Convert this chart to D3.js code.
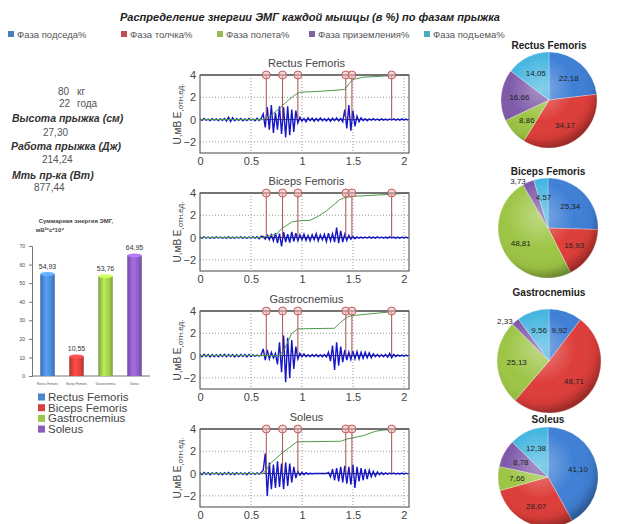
<!DOCTYPE html>
<html>
<head>
<meta charset="utf-8">
<script src="https://cdn.jsdelivr.net/npm/d3@7"></script>
<style>
	body { margin: 0; background: #fff; }
	text { font-family: "Liberation Sans", Arial, sans-serif; }
</style>
</head>
<body>
<div id="chart"></div>
<script>
// ---- data ----
var phases = ['Фаза подседа%', 'Фаза толчка%', 'Фаза полета%', 'Фаза приземления%', 'Фаза подъема%'];
var muscles = ['Rectus Femoris', 'Biceps Femoris', 'Gastrocnemius', 'Soleus'];

// energy share per phase (%), one array per muscle
var pieRF = [22.18, 34.17, 8.86, 16.66, 14.05];
var pieBF = [25.34, 16.93, 48.81, 3.73, 4.57];
var pieGM = [9.92, 48.71, 25.13, 2.33, 9.56];
var pieSO = [41.10, 28.07, 7.66, 8.78, 12.38];

// summed EMG energy, mV^2*s*10^4
var energySum = [54.93, 10.55, 53.76, 64.95];
var barTicks = [0, 10, 20, 30, 40, 50, 60, 70];

// athlete
var bodyMass = '80';
var age = '22';
var jumpHeight = '27,30';
var jumpWork = '214,24';
var jumpPower = '877,44';

// EMG traces, one sample every 0.02 s from 0 s
var timeStep = 0.02;
var emgRF = [0.05,-0.08,0.1,-0.06,0.04,-0.1,0.08,-0.05,0.06,-0.09,
	0.07,-0.06,0.1,-0.12,0.2,-0.18,0.15,-0.1,0.08,-0.07,
	0.09,-0.1,0.06,-0.08,0.1,-0.06,0.05,-0.1,0.12,-0.08,0.1,
	0.5,-0.7,1.1,-0.9,1.3,-1.2,0.6,-0.9,1.2,-1.3,1.1,-1.6,1.2,-1.4,0.9,-1.1,0.8,
	-0.3,0.2,-0.15,0.1,-0.2,0.15,-0.1,0.12,-0.15,0.1,-0.12,0.15,-0.1,0.08,-0.12,0.1,-0.15,0.12,-0.1,0.15,-0.12,0.1,-0.2,
	0.9,-0.8,1.3,-1.0,0.8,-0.6,
	0.3,-0.2,0.15,-0.1,0.08,-0.1,0.06,-0.05,0.08,-0.06,0.05,-0.07,0.06,-0.05,0.04,-0.06,0.05,-0.04,0.06,-0.05,0.04,-0.05,0.06,-0.04,0.05,-0.04];
var emgBF = [0.04,-0.05,0.06,-0.04,0.05,-0.06,0.04,-0.05,0.06,-0.04,
	0.05,-0.06,0.04,-0.05,0.06,-0.05,0.04,-0.06,0.05,-0.04,
	0.06,-0.05,0.04,-0.06,0.05,-0.04,0.06,-0.05,0.08,-0.1,0.12,
	0.1,-0.15,0.2,-0.2,0.25,-0.3,
	0.4,-0.5,0.35,-0.8,0.5,-0.4,0.3,-0.45,0.5,-0.35,0.4,
	-0.3,0.25,-0.2,0.3,-0.25,0.2,-0.3,0.25,-0.2,0.35,-0.3,0.25,-0.2,0.3,-0.35,0.4,-0.3,0.35,-0.4,0.9,-0.5,0.6,-0.4,
	0.3,-0.25,0.2,-0.15,0.1,-0.1,
	0.06,-0.05,0.04,-0.06,0.05,-0.04,0.06,-0.05,0.04,-0.05,0.06,-0.04,0.05,-0.06,0.04,-0.05,0.06,-0.04,0.05,-0.05,0.04,-0.06,0.05,-0.04,0.05,-0.04];
var emgGM = [0.08,-0.1,0.12,-0.08,0.1,-0.12,0.09,-0.1,0.08,-0.11,
	0.1,-0.08,0.12,-0.1,0.09,-0.08,0.1,-0.12,0.08,-0.1,
	0.09,-0.08,0.1,-0.12,0.1,-0.08,0.06,-0.05,0.05,-0.04,0.05,
	0.6,-0.4,0.5,-0.3,0.3,-0.2,0.2,
	-0.8,1.2,-1.5,1.8,-2.4,1.6,-2.0,1.4,-1.2,0.8,
	-0.3,0.2,-0.1,0.15,-0.1,0.08,-0.1,0.1,-0.08,0.1,-0.1,0.08,-0.1,0.1,-0.12,0.3,-0.5,0.9,-1.3,1.2,-0.9,0.8,-0.6,
	0.5,-0.4,0.3,-0.35,0.4,-0.3,
	0.35,-0.3,0.3,-0.25,0.3,-0.2,0.25,-0.2,0.15,-0.1,0.1,-0.1,0.08,-0.1,0.1,-0.15,0.2,-0.2,0.1,-0.08,0.06,-0.05,0.05,-0.06,0.05,-0.04];
var emgSO = [0.06,-0.08,0.1,-0.06,0.08,-0.1,0.07,-0.06,0.09,-0.08,
	0.06,-0.1,0.08,-0.07,0.1,-0.08,0.06,-0.09,0.08,-0.06,
	0.07,-0.08,0.06,-0.1,0.08,-0.06,0.05,-0.07,0.06,-0.05,0.1,
	0.3,1.8,-2.0,1.0,-1.4,0.8,-1.3,1.1,-1.2,0.9,-1.4,1.0,-1.1,0.9,-0.8,0.6,-0.4,
	0.2,-0.15,0.1,-0.1,0.08,-0.05,0.03,-0.02,0.01,0,0,0,0,0,0,0.1,-0.3,0.4,-0.6,0.5,-0.7,0.6,-0.8,
	0.7,-0.9,0.6,-1.0,0.8,-1.3,
	0.6,-0.7,0.5,-0.6,0.4,-0.5,0.3,-0.3,0.2,-0.25,0.15,-0.1,0.1,-0.08,0.06,-0.05,0.05,-0.04,0.05,-0.04,0.03,-0.04,0.05,-0.03,0.04,-0.03];

// cumulative energy curves [t, E]
var cumRF = [[0,0],[0.62,0],[0.7,0.4],[0.78,1.0],[0.86,1.7],[0.93,2.2],[0.98,2.45],[1.2,2.55],[1.42,2.7],[1.46,3.2],[1.5,3.6],[1.6,3.8],[1.8,3.9],[2.05,4.0]];
var cumBF = [[0,0],[0.6,0],[0.75,0.3],[0.8,0.8],[0.9,1.4],[0.96,1.5],[1.08,1.55],[1.16,1.9],[1.24,2.4],[1.32,3.0],[1.37,3.4],[1.43,3.6],[1.5,3.7],[1.9,3.9],[2.05,4.0]];
var cumGM = [[0,0],[0.78,0],[0.83,0.6],[0.86,1.2],[0.9,2.0],[0.96,2.4],[1.32,2.45],[1.38,3.0],[1.45,3.5],[1.51,3.6],[1.9,3.95],[2.05,4.0]];
var cumSO = [[0,0],[0.62,0],[0.66,0.5],[0.7,1.0],[0.8,1.8],[0.9,2.5],[0.95,2.85],[1.38,2.9],[1.44,3.1],[1.6,3.4],[1.72,3.8],[1.8,3.9],[2.0,4.0],[2.05,4.0]];

// phase borders, s
var stemTimes = [0.65, 0.81, 0.96, 1.43, 1.49, 1.88];
var xTicks = [0, 0.5, 1, 1.5, 2];
var yTicks = [-2, 0, 2, 4];

// ---- drawing ----
var phaseColors = ['#3f80d6', '#de3e3a', '#9dc545', '#7f5aa9', '#46b6e0'];
var legendColors = ['#4a7ebb', '#c0504d', '#9bbb59', '#8064a2', '#4bacc6'];
var comma = function(v) { return d3.format('.2f')(v).replace('.', ','); };

var svg = d3.select('#chart').append('svg').attr('width', 619).attr('height', 524);
var defs = svg.append('defs');

svg.append('text')
	.attr('x', 310).attr('y', 21)
	.attr('text-anchor', 'middle')
	.style('font-size', '11px').style('font-weight', 'bold').style('font-style', 'italic')
	.attr('fill', '#222')
	.text('Распределение знергии ЭМГ каждой мышцы (в %) по фазам прыжка');

// phase legend
var legX = [17, 130, 226, 318, 433];
phases.forEach(function(p, i) {
	svg.append('rect').attr('x', legX[i] - 9).attr('y', 31).attr('width', 6).attr('height', 6).attr('fill', legendColors[i]);
	svg.append('text').attr('x', legX[i]).attr('y', 38)
		.style('font-size', '9.5px').attr('fill', '#555').text(p);
});

// athlete info
function info(txt, x, y, strong) {
	svg.append('text').attr('x', x).attr('y', y + 3.5)
		.style('font-size', strong ? '10.5px' : '10px')
		.style('font-weight', strong ? 'bold' : 'normal')
		.style('font-style', strong ? 'italic' : 'normal')
		.attr('fill', strong ? '#333' : '#555')
		.text(txt);
}
info(bodyMass, 58, 91); info('кг', 77, 91);
info(age, 59, 103); info('года', 77, 103);
info('Высота прыжка (см)', 12, 118, true);
info(jumpHeight, 43, 132);
info('Работа прыжка (Дж)', 11, 146, true);
info(jumpWork, 42, 159);
info('Мть пр-ка (Вт)', 12, 175, true);
info(jumpPower, 34, 187);

// ---- bar chart ----
var barColors = ['#4a86d0', '#d8403c', '#9cc84a', '#8a5cc0'];
var yb = d3.scaleLinear().domain([0, 70]).range([376, 246]);
var xb = d3.scaleBand().domain(muscles).range([33, 149]).paddingInner(0.5).paddingOuter(0.25);

svg.append('text').attr('x', 76).attr('y', 223).attr('text-anchor', 'middle')
	.style('font-size', '6px').style('font-weight', 'bold').attr('fill', '#444')
	.text('Суммарная энергия ЭМГ,');
svg.append('text').attr('x', 50).attr('y', 232).attr('text-anchor', 'middle')
	.style('font-size', '6px').style('font-weight', 'bold').attr('fill', '#444')
	.text('мВ²*с*10⁴');

var ba = svg.append('g').attr('transform', 'translate(32,0)')
	.call(d3.axisLeft(yb).tickValues(barTicks).tickSize(3));
ba.select('.domain').attr('stroke', '#777');
ba.selectAll('.tick line').attr('stroke', '#777');
ba.selectAll('.tick text').style('font-size', '5px').attr('fill', '#444').attr('x', -7);
svg.append('line').attr('x1', 32).attr('x2', 150).attr('y1', yb(0)).attr('y2', yb(0)).attr('stroke', '#777');

barColors.forEach(function(c, i) {
	var g = defs.append('linearGradient').attr('id', 'cyl' + i).attr('x1', 0).attr('x2', 1).attr('y1', 0).attr('y2', 0);
	g.append('stop').attr('offset', '0%').attr('stop-color', d3.color(c).darker(0.6));
	g.append('stop').attr('offset', '40%').attr('stop-color', d3.color(c).brighter(0.5));
	g.append('stop').attr('offset', '80%').attr('stop-color', c);
	g.append('stop').attr('offset', '100%').attr('stop-color', d3.color(c).darker(0.7));
});

energySum.forEach(function(v, i) {
	var bx = xb(muscles[i]), bw = xb.bandwidth();
	svg.append('rect').attr('x', bx).attr('y', yb(v)).attr('width', bw).attr('height', yb(0) - yb(v))
		.attr('fill', 'url(#cyl' + i + ')');
	svg.append('ellipse').attr('cx', bx + bw / 2).attr('cy', yb(v)).attr('rx', bw / 2).attr('ry', 2)
		.attr('fill', d3.color(barColors[i]).brighter(0.8));
	svg.append('text').attr('x', bx + bw / 2).attr('y', yb(v) - 5).attr('text-anchor', 'middle')
		.style('font-size', '7px').attr('fill', '#333').text(comma(v));
	svg.append('text').attr('x', bx + bw / 2).attr('y', 385).attr('text-anchor', 'middle')
		.style('font-size', '3px').attr('fill', '#555').text(muscles[i]);
});

muscles.forEach(function(m, i) {
	var ly = 397 + i * 10.7;
	svg.append('rect').attr('x', 38).attr('y', ly - 3.5).attr('width', 7).attr('height', 7).attr('fill', barColors[i]);
	svg.append('text').attr('x', 48).attr('y', ly + 4)
		.style('font-size', '11.5px').attr('fill', '#444').text(m);
});

// ---- EMG panels ----
var x = d3.scaleLinear().domain([0, 2.05]).range([200, 409]);
var panels = [
	{ name: muscles[0], emg: emgRF, cum: cumRF },
	{ name: muscles[1], emg: emgBF, cum: cumBF },
	{ name: muscles[2], emg: emgGM, cum: cumGM },
	{ name: muscles[3], emg: emgSO, cum: cumSO }
];

panels.forEach(function(p, i) {
	var top = 75 + i * 118;
	var y = d3.scaleLinear().domain([-3, 4]).range([top + 78, top]);
	var g = svg.append('g');

	g.append('rect').attr('x', x(0)).attr('y', y(4)).attr('width', x(2.05) - x(0)).attr('height', y(-3) - y(4))
		.attr('fill', '#fff');

	// grid
	xTicks.slice(1).forEach(function(t) {
		g.append('line').attr('x1', x(t)).attr('x2', x(t)).attr('y1', y(4)).attr('y2', y(-3))
			.attr('stroke', '#999').attr('stroke-dasharray', '1,2');
	});
	[2, -2].forEach(function(v) {
		g.append('line').attr('x1', x(0)).attr('x2', x(2.05)).attr('y1', y(v)).attr('y2', y(v))
			.attr('stroke', '#999').attr('stroke-dasharray', '1,2');
	});
	g.append('line').attr('x1', x(0)).attr('x2', x(2.05)).attr('y1', y(0)).attr('y2', y(0))
		.attr('stroke', '#111').attr('stroke-width', 0.8);

	// EMG
	g.append('path').datum(p.emg)
		.attr('d', d3.line().x(function(d, k) { return x(k * timeStep); }).y(function(d) { return y(d); }))
		.attr('fill', 'none').attr('stroke', '#1515c8').attr('stroke-width', 1.4);

	// cumulative energy
	g.append('path').datum(p.cum)
		.attr('d', d3.line().x(function(d) { return x(d[0]); }).y(function(d) { return y(d[1]); }))
		.attr('fill', 'none').attr('stroke', '#4e9a4e').attr('stroke-width', 1);

	// phase stems
	stemTimes.forEach(function(t) {
		g.append('line').attr('x1', x(t)).attr('x2', x(t)).attr('y1', y(0)).attr('y2', y(4))
			.attr('stroke', '#a4504c').attr('stroke-width', 1);
	});

	// frame
	g.append('rect').attr('x', x(0)).attr('y', y(4)).attr('width', x(2.05) - x(0)).attr('height', y(-3) - y(4))
		.attr('fill', 'none').attr('stroke', '#444').attr('stroke-width', 1);
	g.append('line').attr('x1', x(0)).attr('x2', x(2.05)).attr('y1', y(4)).attr('y2', y(4))
		.attr('stroke', '#666').attr('stroke-width', 1.6);

	stemTimes.forEach(function(t) {
		g.append('circle').attr('cx', x(t)).attr('cy', y(4)).attr('r', 4)
			.attr('fill', 'rgba(240,190,190,0.6)').attr('stroke', '#c05a5a').attr('stroke-width', 1);
	});

	// axes
	var ax = g.append('g').attr('transform', 'translate(0,' + y(-3) + ')')
		.call(d3.axisBottom(x).tickValues(xTicks).tickSize(0).tickPadding(4).tickFormat(function(d) { return String(d); }));
	ax.select('.domain').remove();
	ax.selectAll('text').style('font-size', '11px').attr('fill', '#444');

	var ay = g.append('g').attr('transform', 'translate(' + x(0) + ',0)')
		.call(d3.axisLeft(y).tickValues(yTicks).tickSize(0).tickPadding(4).tickFormat(d3.format('')));
	ay.select('.domain').remove();
	ay.selectAll('text').style('font-size', '11px').attr('fill', '#444');

	g.append('text').attr('x', (x(0) + x(2.05)) / 2 + 2).attr('y', top - 8).attr('text-anchor', 'middle')
		.style('font-size', '11px').attr('fill', '#444').text(p.name);

	var lab = g.append('text').attr('transform', 'translate(181,' + (top + 39) + ') rotate(-90)')
		.attr('text-anchor', 'middle').style('font-size', '10px').attr('fill', '#444');
	lab.append('tspan').text('U,мВ  E');
	lab.append('tspan').attr('dy', 2).style('font-size', '8px').text(',отн.ед.');
});

// ---- pies ----
var pies = [
	{ name: muscles[0], values: pieRF, cx: 549, cy: 100, r: 48, ty: 49 },
	{ name: muscles[1], values: pieBF, cx: 548, cy: 228, r: 50, ty: 175 },
	{ name: muscles[2], values: pieGM, cx: 549, cy: 361, r: 52, ty: 296 },
	{ name: muscles[3], values: pieSO, cx: 548, cy: 477, r: 50, ty: 423 }
];

var gloss = defs.append('radialGradient').attr('id', 'gloss').attr('cx', '42%').attr('cy', '38%').attr('r', '62%');
gloss.append('stop').attr('offset', '0%').attr('stop-color', '#fff').attr('stop-opacity', 0.35);
gloss.append('stop').attr('offset', '55%').attr('stop-color', '#fff').attr('stop-opacity', 0);
gloss.append('stop').attr('offset', '85%').attr('stop-color', '#000').attr('stop-opacity', 0.05);
gloss.append('stop').attr('offset', '100%').attr('stop-color', '#000').attr('stop-opacity', 0.3);

pies.forEach(function(pc) {
	var g = svg.append('g').attr('transform', 'translate(' + pc.cx + ',' + pc.cy + ')');
	var total = d3.sum(pc.values);
	var arcs = d3.pie().sort(null)(pc.values);
	var arc = d3.arc().innerRadius(0).outerRadius(pc.r);

	g.selectAll('path.slice').data(arcs).enter().append('path')
		.attr('class', 'slice')
		.attr('d', arc)
		.attr('fill', function(d, k) { return phaseColors[k]; })
		.attr('stroke', 'rgba(255,255,255,0.5)').attr('stroke-width', 0.6);

	g.append('circle').attr('r', pc.r).attr('fill', 'url(#gloss)');

	arcs.forEach(function(d, k) {
		var small = d.value / total < 0.045;
		var c = d3.arc().innerRadius(small ? pc.r * 1.02 : pc.r * 0.62).outerRadius(small ? pc.r * 1.02 : pc.r * 0.62).centroid(d);
		g.append('text').attr('x', small ? c[0] - 2 : c[0]).attr('y', c[1] + 3)
			.attr('text-anchor', small ? 'end' : 'middle')
			.style('font-size', '8px').attr('fill', '#222')
			.text(comma(d.value));
	});

	svg.append('text').attr('x', pc.cx).attr('y', pc.ty).attr('text-anchor', 'middle')
		.style('font-size', '10px').style('font-weight', 'bold').attr('fill', '#222').text(pc.name);
});
</script>
</body>
</html>
